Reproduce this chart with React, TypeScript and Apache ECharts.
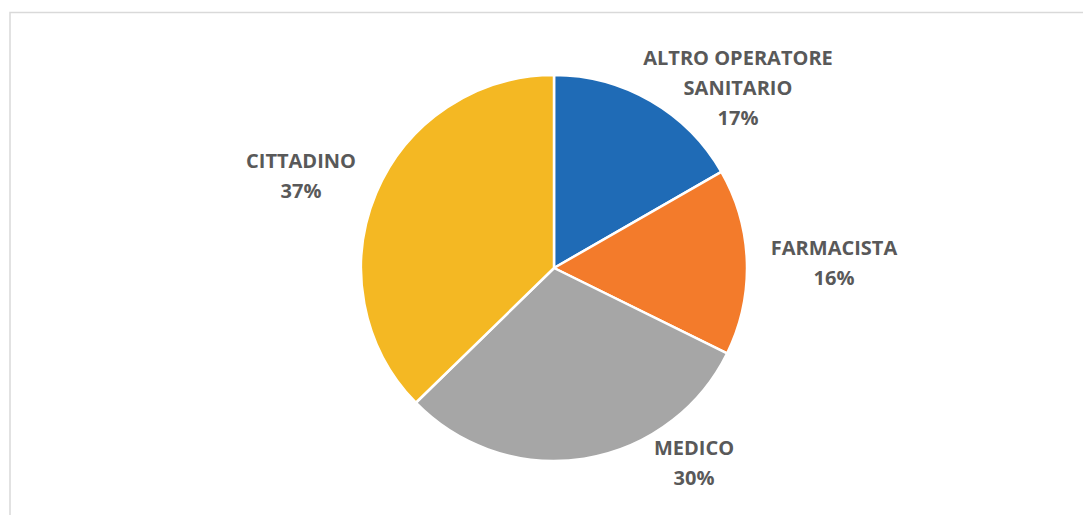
import React, { useEffect, useRef } from "react";
import * as echarts from "echarts";

const categories = ["ALTRO OPERATORE SANITARIO", "FARMACISTA", "MEDICO", "CITTADINO"];
const shares = [16.7, 15.6, 30.4, 37.3];
const colors = ["#1f6bb6", "#f37b2b", "#a6a6a6", "#f4b823"];
// label anchor offsets from the pie centre (px), layout only
const labelOffsets: [number, number][] = [
  [184, -181],
  [280, -6],
  [140, 194],
  [-253, -93],
];

const W = 1083;
const H = 515;
const CX = 554;
const CY = 268;
const R = 193;

export default function App() {
  const ref = useRef<HTMLDivElement>(null);
  useEffect(() => {
    document.body.style.margin = "0";
    if (!ref.current) return;
    const chart = echarts.init(ref.current, null, { renderer: "svg" });
    chart.setOption({
      animation: false,
      backgroundColor: "#ffffff",
      graphic: [
        {
          type: "rect",
          shape: { x: 10, y: 12.5, width: 1090, height: 520 },
          style: { fill: "none", stroke: "#d9d9d9", lineWidth: 1.5 },
          silent: true,
        },
      ],
      series: [
        {
          type: "pie",
          center: [CX, CY],
          radius: [0, R],
          startAngle: 90,
          clockwise: true,
          avoidLabelOverlap: false,
          itemStyle: { borderColor: "#ffffff", borderWidth: 2.5 },
          labelLine: { show: false },
          label: {
            show: true,
            position: "outside",
            fontFamily: "Open Sans",
            fontWeight: "bold",
            fontSize: 20,
            lineHeight: 30,
            color: "#595959",
            formatter: (p: any) =>
              p.name.replace("OPERATORE ", "OPERATORE\n") + "\n" + Math.round(p.percent) + "%",
          },
          labelLayout: (p: any) => {
            const o = labelOffsets[p.dataIndex];
            return { x: CX + o[0], y: CY + o[1], align: "center", verticalAlign: "middle" };
          },
          data: categories.map((name, i) => ({
            name,
            value: shares[i],
            itemStyle: { color: colors[i] },
          })),
        },
      ],
    });
    return () => chart.dispose();
  }, []);
  return <div ref={ref} style={{ width: W, height: H }} />;
}
